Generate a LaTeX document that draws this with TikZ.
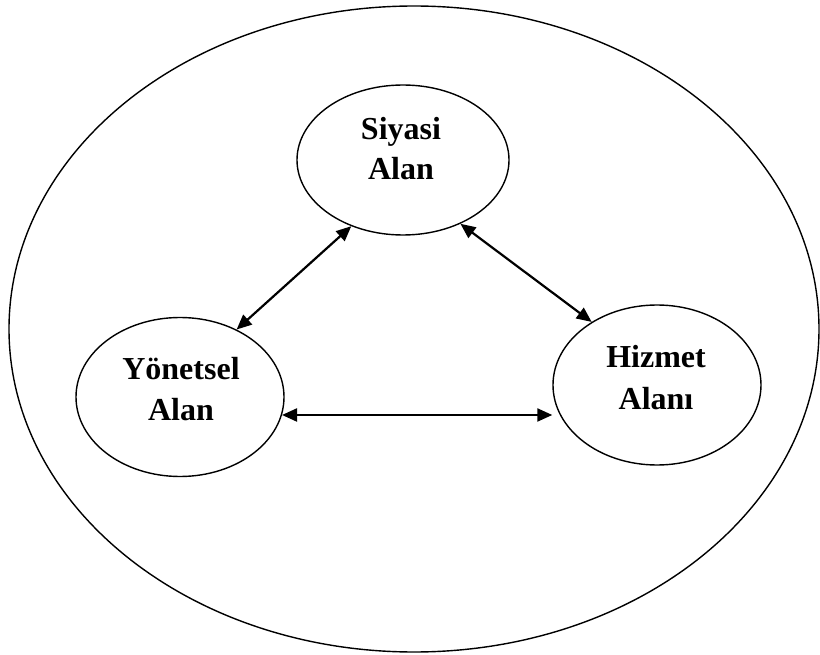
\documentclass[tikz,border=0pt]{standalone}
\usepackage{fontspec}
\setmainfont{Liberation Serif}
\usetikzlibrary{shapes.geometric,arrows.meta}
\begin{document}
\begin{tikzpicture}[x=1pt,y=-1pt,
  area/.style={ellipse,draw,line width=1.4pt,inner sep=0pt},
  lbl/.style={anchor=base,font=\fontsize{32}{36}\selectfont\bfseries,inner sep=0pt},
  link/.style={line width=2.2pt,{Triangle[length=15pt,width=13pt]}-{Triangle[length=15pt,width=13pt]}}]
\useasboundingbox (0,0) rectangle (820,655);
\node[area,minimum width=810pt,minimum height=646pt] (outer) at (414,329) {};
\node[area,minimum width=212pt,minimum height=150pt] (sy) at (403,160) {};
\node[area,minimum width=208pt,minimum height=159pt] (yo) at (180,397) {};
\node[area,minimum width=208pt,minimum height=160pt] (hz) at (657,385) {};
\node[lbl] (sy1) at (401,140) {Siyasi};
\node[lbl] (sy2) at (401,180) {Alan};
\node[lbl] (yo1) at (181,379) {Yönetsel};
\node[lbl] (yo2) at (181,420) {Alan};
\node[lbl] (hz1) at (656,367) {Hizmet};
\node[lbl] (hz2) at (656,409) {Alanı};
\draw[link] (sy.232) -- (yo.50);
\draw[link] (sy.312) -- (hz.136);
\draw[link] (yo.-10) -- (yo.-10 -| hz.west);
\end{tikzpicture}
\end{document}
